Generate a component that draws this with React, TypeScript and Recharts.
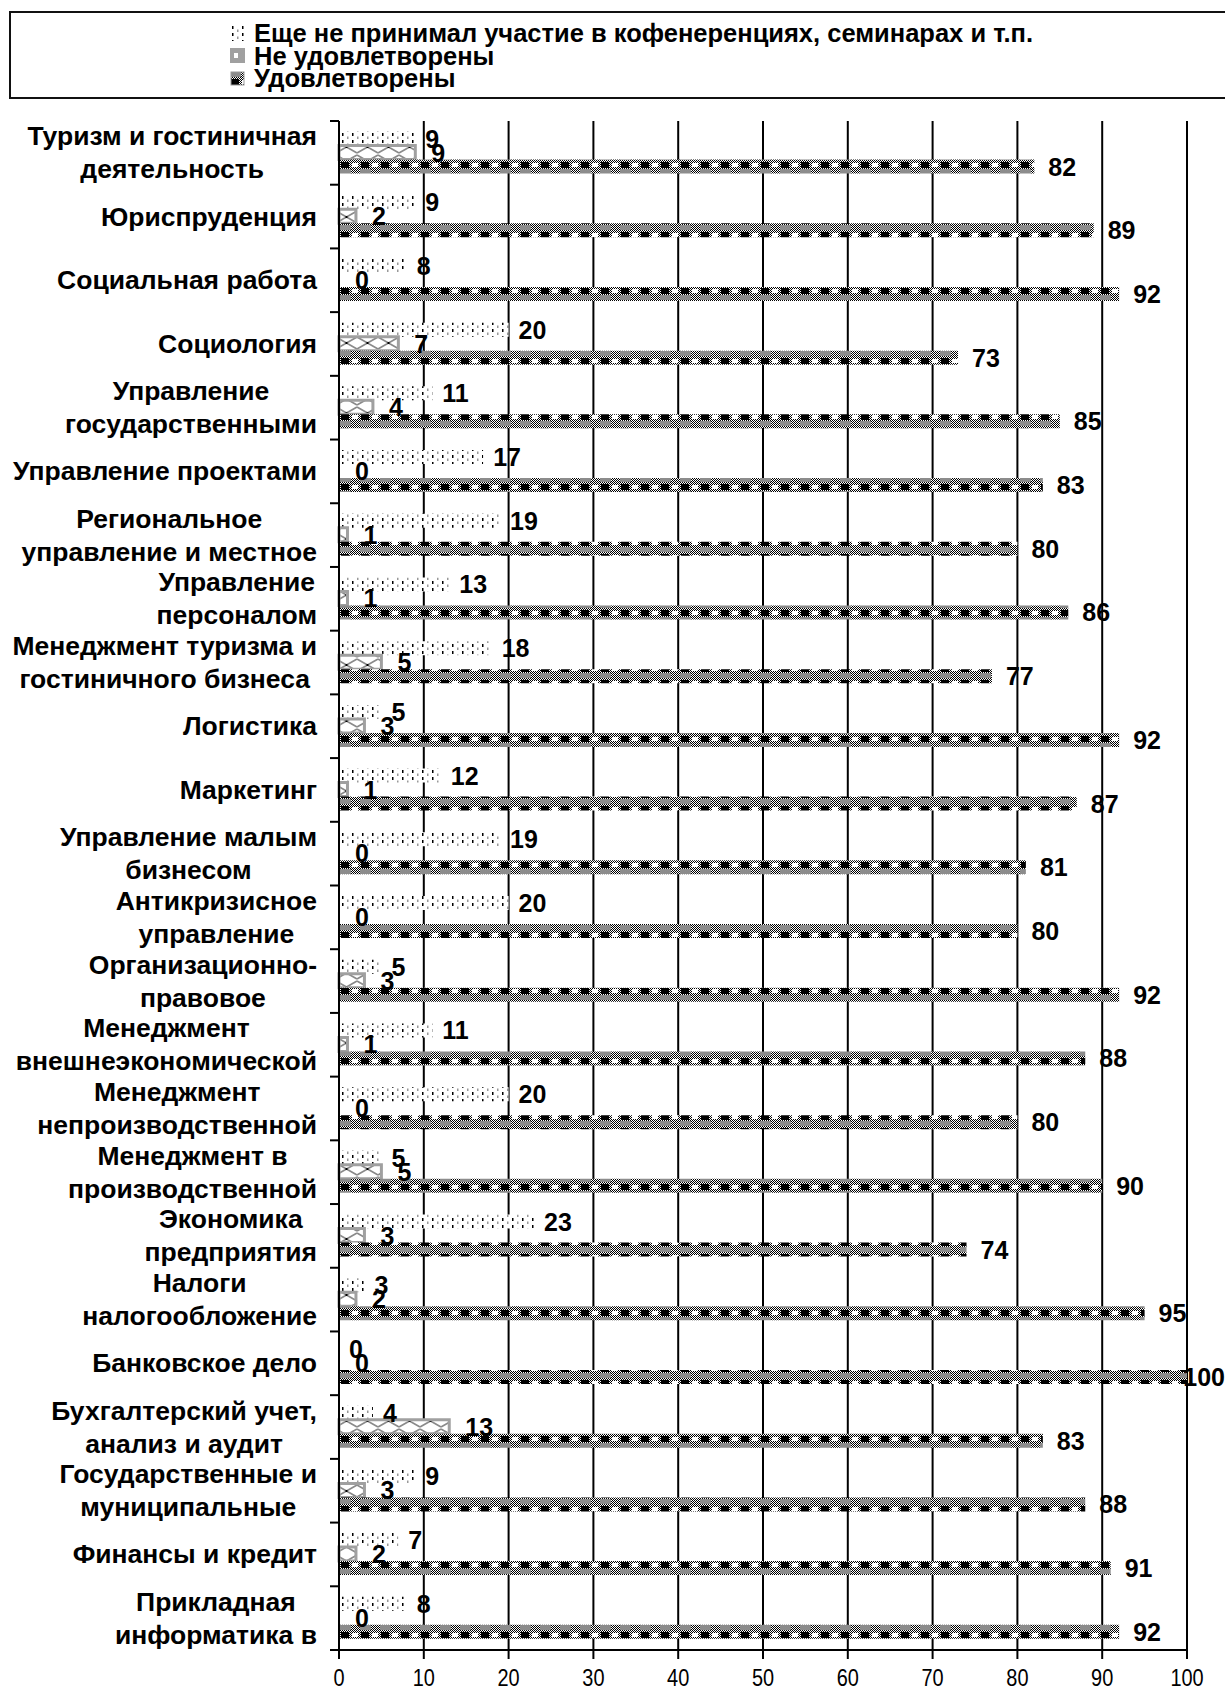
import React from 'react';
import { BarChart, Bar, XAxis, YAxis, CartesianGrid, LabelList, Cell } from 'recharts';

const CATEGORIES = [
  'Туризм и гостиничная\nдеятельность',
  'Юриспруденция',
  'Социальная работа',
  'Социология',
  'Управление\nгосударственными',
  'Управление проектами',
  'Региональное\nуправление и местное',
  'Управление\nперсоналом',
  'Менеджмент туризма и\nгостиничного бизнеса',
  'Логистика',
  'Маркетинг',
  'Управление малым\nбизнесом',
  'Антикризисное\nуправление',
  'Организационно-\nправовое',
  'Менеджмент\nвнешнеэкономической',
  'Менеджмент\nнепроизводственной',
  'Менеджмент в\nпроизводственной',
  'Экономика\nпредприятия',
  'Налоги\nналогообложение',
  'Банковское дело',
  'Бухгалтерский учет,\nанализ и аудит',
  'Государственные и\nмуниципальные',
  'Финансы и кредит',
  'Прикладная\nинформатика в',
];

// Еще не принимал участие
const NOT_YET = [9, 9, 8, 20, 11, 17, 19, 13, 18, 5, 12, 19, 20, 5, 11, 20, 5, 23, 3, 0, 4, 9, 7, 8];
// Не удовлетворены
const UNSATISFIED = [9, 2, 0, 7, 4, 0, 1, 1, 5, 3, 1, 0, 0, 3, 1, 0, 5, 3, 2, 0, 13, 3, 2, 0];
// Удовлетворены
const SATISFIED = [82, 89, 92, 73, 85, 83, 80, 86, 77, 92, 87, 81, 80, 92, 88, 80, 90, 74, 95, 100, 83, 88, 91, 92];

const X_TICKS = [0, 10, 20, 30, 40, 50, 60, 70, 80, 90, 100];

const SERIES_NAMES = [
  'Еще не принимал участие в кофенеренциях, семинарах и т.п.',
  'Не удовлетворены',
  'Удовлетворены',
];

const data = CATEGORIES.map((name, i) => ({
  name,
  notYet: NOT_YET[i],
  unsat: UNSATISFIED[i],
  sat: SATISFIED[i],
}));

const CHART_W = 1225;
const CHART_H = 1690;
const PLOT_TOP = 121;
const PLOT_BOTTOM = 1650;
const PLOT_LEFT = 339;
const PLOT_RIGHT = 1187;
const BAND = (PLOT_BOTTOM - PLOT_TOP) / CATEGORIES.length;

const FONT = "'Liberation Sans', Arial, sans-serif";
const CAT_SIZE = 26.5;
const LABEL_SIZE = 25;

let ctx: CanvasRenderingContext2D | null = null;
const measure = (s: string) => {
  if (!ctx) {
    ctx = document.createElement('canvas').getContext('2d');
    if (ctx) ctx.font = `bold ${CAT_SIZE}px ${FONT}`;
  }
  return ctx ? ctx.measureText(s).width : s.length * 15;
};

// zero values still get their "0" label, like the original
const zeroMin = (v: number) => (v === 0 ? 0.01 : 0);

const CategoryTick = (props: any) => {
  const { y, payload, index } = props;
  const lines = String(payload.value).split('\n');
  const maxW = Math.max(...lines.map(measure));
  const cx = PLOT_LEFT - 22 - maxW / 2;
  const top = y - BAND / 2;
  return (
    <g>
      <line x1={PLOT_LEFT - 9} x2={PLOT_LEFT} y1={top} y2={top} stroke="#000" strokeWidth={2} />
      {index === CATEGORIES.length - 1 && (
        <line x1={PLOT_LEFT - 9} x2={PLOT_LEFT} y1={top + BAND} y2={top + BAND} stroke="#000" strokeWidth={2} />
      )}
      {lines.map((l, i) => (
        <text
          key={i}
          x={cx}
          y={y + (i - (lines.length - 1) / 2) * 33}
          textAnchor="middle"
          dominantBaseline="central"
          fontFamily={FONT}
          fontWeight="bold"
          fontSize={CAT_SIZE}
          fill="#000"
        >
          {l}
        </text>
      ))}
    </g>
  );
};

// the original tick labels are a narrow face, squeeze the regular one
const XTick = (props: any) => {
  const { x, y, payload } = props;
  return (
    <text
      transform={`translate(${x},${y}) scale(0.83,1)`}
      textAnchor="middle"
      dy="0.71em"
      fontFamily={FONT}
      fontSize={24}
      fill="#000"
    >
      {payload.value}
    </text>
  );
};

const makeLabel = (dx: number) => (props: any) => {
  const { x, y, width, height, value } = props;
  // keep the label inside the picture, the way the original pulls "100" back
  const textW = String(value).length * LABEL_SIZE * 0.556;
  const lx = Math.min(x + width + dx, CHART_W - textW);
  return (
    <text
      x={lx}
      y={y + height / 2}
      dominantBaseline="central"
      fontFamily={FONT}
      fontWeight="bold"
      fontSize={LABEL_SIZE}
      fill="#000"
    >
      {value}
    </text>
  );
};

const Patterns = () => (
  <svg width={0} height={0} style={{ position: 'absolute' }}>
    <defs>
      <pattern id="pChecker" width={2} height={2} patternUnits="userSpaceOnUse">
        <rect width={2} height={2} fill="#fff" />
        <rect x={0} y={0} width={1} height={1} fill="#000" />
        <rect x={1} y={1} width={1} height={1} fill="#000" />
      </pattern>
      <pattern id="pNotYet" width={10} height={7} patternUnits="userSpaceOnUse">
        <rect width={10} height={7} fill="#fff" />
        <rect x={2} y={0} width={1.5} height={3} fill="#000" />
        <rect x={7} y={3.5} width={1.5} height={2.5} fill="#999" />
      </pattern>
      <pattern id="pUnsat" width={21} height={14} patternUnits="userSpaceOnUse">
        <rect width={21} height={14} fill="#fff" />
        <path d="M0,1 L21,13 M0,13 L21,1" stroke="#8a8a8a" strokeWidth={1.6} />
        <rect x={9.5} y={6} width={2} height={2} fill="#000" />
      </pattern>
      <pattern id="pSat" width={20} height={14} patternUnits="userSpaceOnUse">
        <rect width={20} height={14} fill="url(#pChecker)" />
        <rect x={0} y={1} width={11} height={5} fill="#8c8c8c" />
        <rect x={1} y={8} width={8} height={6} fill="#000" />
        <rect x={12} y={9} width={6} height={4} fill="#fff" />
      </pattern>
    </defs>
  </svg>
);

const Legend = () => (
  <div
    style={{
      position: 'absolute',
      left: 9,
      top: 11,
      width: CHART_W,
      height: 88,
      border: '2px solid #111',
      boxSizing: 'border-box',
    }}
  >
    {SERIES_NAMES.map((n, i) => (
      <div
        key={n}
        style={{
          position: 'absolute',
          left: 219,
          top: 8 + i * 22.5,
          height: 24,
          display: 'flex',
          alignItems: 'center',
          whiteSpace: 'nowrap',
          fontFamily: FONT,
          fontWeight: 'bold',
          fontSize: 25.5,
          lineHeight: '24px',
          color: '#000',
        }}
      >
        <svg width={15} height={15} style={{ marginRight: 9 }}>
          {i === 0 && <rect width={15} height={15} fill="url(#pNotYet)" />}
          {i === 1 && (
            <g>
              <rect width={15} height={15} fill="#a0a0a0" />
              <rect x={4} y={5} width={4} height={5} fill="#fff" />
            </g>
          )}
          {i === 2 && <rect x={1} y={1} width={13} height={13} fill="url(#pSat)" stroke="#999" strokeWidth={1} />}
        </svg>
        {n}
      </div>
    ))}
  </div>
);

export default function App() {
  return (
    <div style={{ position: 'relative', width: CHART_W, height: CHART_H, background: '#fff', overflow: 'hidden' }}>
      <style>{'body{margin:0}'}</style>
      <Patterns />
      <Legend />
      <BarChart
        width={CHART_W}
        height={CHART_H}
        data={data}
        layout="vertical"
        margin={{ top: PLOT_TOP, right: CHART_W - PLOT_RIGHT, bottom: 0, left: 0 }}
        barCategoryGap="16.5%"
        barGap={0}
      >
        <CartesianGrid horizontal={false} stroke="#000" strokeWidth={2} />
        <XAxis
          type="number"
          domain={[0, 100]}
          ticks={X_TICKS}
          interval={0}
          height={CHART_H - PLOT_BOTTOM}
          tickSize={9}
          tickMargin={10}
          axisLine={{ stroke: '#000', strokeWidth: 2 }}
          tickLine={{ stroke: '#000', strokeWidth: 2 }}
          tick={<XTick />}
        />
        <YAxis
          type="category"
          dataKey="name"
          width={PLOT_LEFT}
          interval={0}
          tickLine={false}
          axisLine={{ stroke: '#000', strokeWidth: 2 }}
          tick={<CategoryTick />}
        />
        <Bar
          dataKey="notYet"
          name={SERIES_NAMES[0]}
          fill="url(#pNotYet)"
          minPointSize={zeroMin}
          isAnimationActive={false}
        >
          <LabelList dataKey="notYet" content={makeLabel(10)} />
        </Bar>
        <Bar
          dataKey="unsat"
          name={SERIES_NAMES[1]}
          fill="url(#pUnsat)"
          strokeWidth={3}
          minPointSize={zeroMin}
          isAnimationActive={false}
        >
          {UNSATISFIED.map((v, i) => (
            <Cell key={i} stroke={v === 0 ? 'none' : '#a0a0a0'} />
          ))}
          <LabelList dataKey="unsat" content={makeLabel(16)} />
        </Bar>
        <Bar dataKey="sat" name={SERIES_NAMES[2]} fill="url(#pSat)" isAnimationActive={false}>
          <LabelList dataKey="sat" content={makeLabel(14)} />
        </Bar>
      </BarChart>
    </div>
  );
}
